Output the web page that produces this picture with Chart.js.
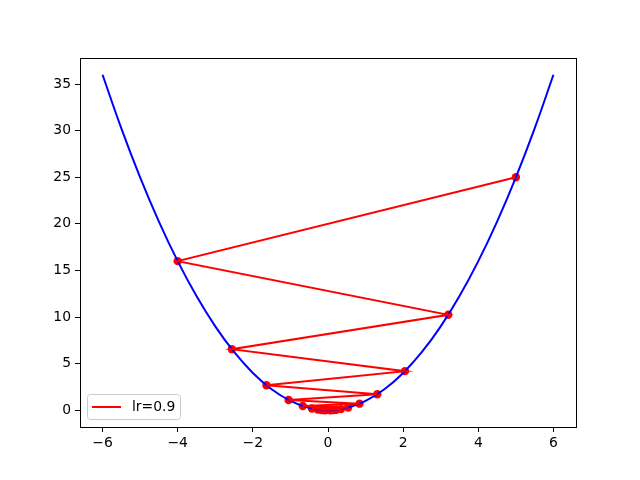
<!DOCTYPE html>
<html><head><meta charset="utf-8">
<script src="https://cdn.jsdelivr.net/npm/chart.js@4/dist/chart.umd.min.js"></script>
<style>html,body{margin:0;padding:0;background:#fff}#wrap{width:640px;height:480px}</style>
</head><body><div id="wrap"><canvas id="c" width="640" height="480"></canvas></div>
<script>
const curveX = [-6,-5.5,-5,-4.5,-4,-3.5,-3,-2.5,-2,-1.5,-1,-0.5,0,0.5,1,1.5,2,2.5,3,3.5,4,4.5,5,5.5,6];
const curveY = [36,30.25,25,20.25,16,12.25,9,6.25,4,2.25,1,0.25,0,0.25,1,2.25,4,6.25,9,12.25,16,20.25,25,30.25,36];
const stepX = [5,-4,3.2,-2.56,2.048,-1.638,1.311,-1.049,0.839,-0.671,0.537,-0.429,0.344,-0.275,0.22,-0.176,0.141,-0.113,0.09,-0.072,0.058];
const stepY = [25,16,10.24,6.554,4.194,2.684,1.718,1.1,0.704,0.45,0.288,0.184,0.118,0.076,0.048,0.031,0.02,0.013,0.008,0.005,0.003];
const xTicks = [-6,-4,-2,0,2,4,6];
const yTicks = [0,5,10,15,20,25,30,35];
const legendLabel = 'lr=0.9';

const FONT = {family:'DejaVu Sans', size:13.9};
const fmt = v => (v < 0 ? '\u2212' + Math.abs(v) : String(v));
const frame = {
  id:'frame',
  afterDraw(chart){
    const {ctx, chartArea:a} = chart;
    ctx.save();
    ctx.strokeStyle='#000'; ctx.lineWidth=1;
    ctx.strokeRect(Math.round(a.left)+0.5, Math.round(a.top)+0.5, Math.round(a.right-a.left), Math.round(a.bottom-a.top));
    const lx=a.left+7.5, ly=a.bottom-32.5, lw=93, lh=25;
    ctx.beginPath();
    if (ctx.roundRect) ctx.roundRect(lx,ly,lw,lh,3); else ctx.rect(lx,ly,lw,lh);
    ctx.fillStyle='rgba(255,255,255,0.8)'; ctx.fill();
    ctx.strokeStyle='#cccccc'; ctx.stroke();
    ctx.beginPath(); ctx.strokeStyle='red'; ctx.lineWidth=2;
    ctx.moveTo(a.left+12, ly+12.5); ctx.lineTo(a.left+41, ly+12.5); ctx.stroke();
    ctx.fillStyle='#000'; ctx.font='13.9px "DejaVu Sans"'; ctx.textBaseline='middle'; ctx.textAlign='left';
    ctx.fillText(legendLabel, a.left+52, ly+13);
    ctx.restore();
  }
};
new Chart(document.getElementById('c'), {
  type:'scatter',
  data:{datasets:[
    {label:legendLabel, data:stepX.map((x,i)=>({x, y:stepY[i]})), showLine:true, borderColor:'red', borderWidth:2, pointRadius:0, tension:0, order:0},
    {label:'curve', data:curveX.map((x,i)=>({x, y:curveY[i]})), showLine:true, borderColor:'blue', borderWidth:2, pointRadius:0, tension:0.4, order:1},
    {label:'points', data:stepX.map((x,i)=>({x, y:stepY[i]})), showLine:false, pointRadius:4.2, pointBorderWidth:0, pointBackgroundColor:'red', pointBorderColor:'red', order:2}
  ]},
  options:{
    responsive:false, animation:false, devicePixelRatio:1,
    layout:{padding:{left:0,right:64,top:58,bottom:0}},
    plugins:{legend:{display:false}, tooltip:{enabled:false}},
    scales:{
      x:{type:'linear', min:-6.6, max:6.6,
        afterBuildTicks(ax){ax.ticks = xTicks.map(v=>({value:v}));},
        afterFit(ax){ax.height=53;},
        grid:{drawOnChartArea:false, drawTicks:true, tickLength:5, tickColor:'#000'},
        border:{display:true,color:'#000'},
        ticks:{color:'#000', font:FONT, padding:3, maxRotation:0, autoSkip:false, callback:fmt}},
      y:{type:'linear', min:-1.8, max:37.8,
        afterBuildTicks(ax){ax.ticks = yTicks.map(v=>({value:v}));},
        afterFit(ax){ax.width=80;},
        grid:{drawOnChartArea:false, drawTicks:true, tickLength:5, tickColor:'#000'},
        border:{display:true,color:'#000'},
        ticks:{color:'#000', font:FONT, padding:4, autoSkip:false, callback:fmt}}
    }
  },
  plugins:[frame]
});
</script></body></html>
